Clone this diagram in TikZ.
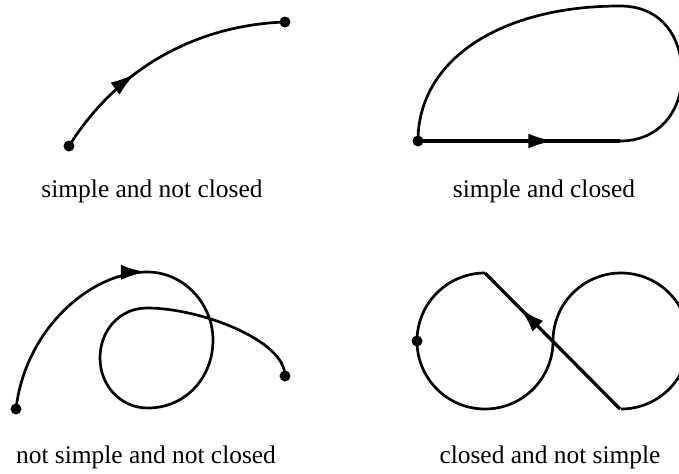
\documentclass[tikz,border=0pt]{standalone}
\usepackage{fontspec}
\setmainfont{Liberation Serif}
\usetikzlibrary{arrows.meta,decorations.markings}

\tikzset{
  curve/.style={line width=2.3pt},
  straight/.style={line width=2.8pt},
  endpt/.style={circle, fill, inner sep=0pt, minimum size=0.33cm},
  caption/.style={anchor=base, font=\fontsize{21.7}{26}\selectfont},
  midarrow/.style={postaction={decorate, decoration={markings,
    mark=at position #1 with {\arrow{Latex[length=0.75cm,width=0.45cm]}}}}}
}

\begin{document}
\begin{tikzpicture}[x=0.03cm, y=0.03cm]
  \useasboundingbox (0,0) rectangle (679,-473);

  % simple and not closed
  \node[endpt] (a1) at (69,-146) {};
  \node[endpt] (a2) at (285,-22)  {};
  \draw[curve, midarrow=0.38] (a1.center) .. controls (120,-65) and (200,-25) .. (a2.center);
  \node[caption] (l1) at (152,-197) {simple and not closed};

  % simple and closed
  \node[endpt] (b1) at (418,-141) {};
  \coordinate (b2) at (620,-141);
  \draw[straight, midarrow=0.67] (b1.center) -- (b2);
  \draw[curve] (b2) .. controls (660,-141) and (682,-110) .. (682,-75)
    .. controls (682,-35) and (660,-6) .. (620,-6)
    .. controls (500,-6) and (418,-60) .. (b1.center);
  \node[caption] (l2) at (544,-197) {simple and closed};

  % not simple and not closed
  \node[endpt] (c1) at (16,-409) {};
  \node[endpt] (c2) at (285,-376) {};
  \coordinate (c3) at (147,-272);
  \draw[curve, midarrow=0.995] (c1.center) .. controls (25,-330) and (90,-272) .. (c3);
  \draw[curve] (c3) .. controls (185,-272) and (213,-305) .. (213,-340)
    .. controls (213,-378) and (185,-408) .. (148,-408)
    .. controls (120,-408) and (100,-385) .. (100,-358)
    .. controls (100,-330) and (120,-308) .. (147,-308)
    .. controls (200,-308) and (285,-340) .. (c2.center);
  \node[caption] (l3) at (146,-463) {not simple and not closed};

  % closed and not simple
  \node[endpt] (d1) at (417,-341) {};
  \coordinate (dt) at (485,-273);
  \coordinate (db) at (620,-409);
  \draw[curve] (dt) arc[start angle=90, end angle=360, radius=68]
    arc[start angle=180, end angle=-90, radius=68];
  \draw[straight, midarrow=0.74] (db) -- (dt);
  \node[caption] (l4) at (550,-463) {closed and not simple};
\end{tikzpicture}
\end{document}
